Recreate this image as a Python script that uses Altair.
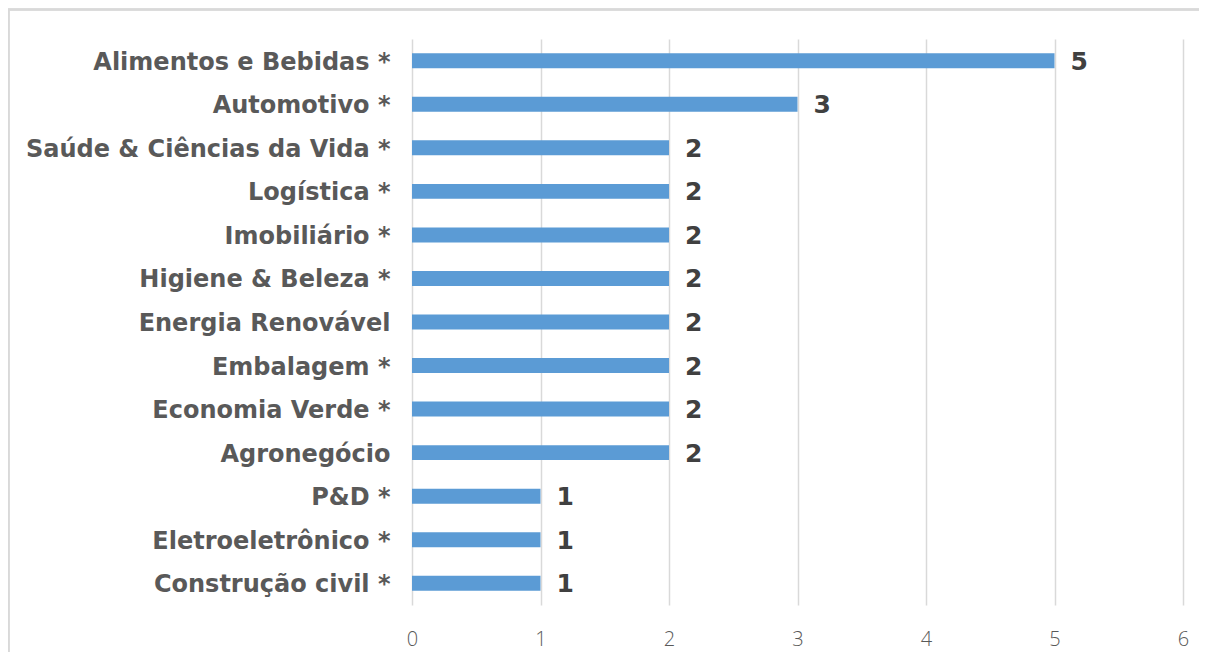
import altair as alt
import pandas as pd

categories = [
    "Alimentos e Bebidas *",
    "Automotivo *",
    "Saúde & Ciências da Vida *",
    "Logística *",
    "Imobiliário *",
    "Higiene & Beleza *",
    "Energia Renovável",
    "Embalagem *",
    "Economia Verde *",
    "Agronegócio",
    "P&D *",
    "Eletroeletrônico *",
    "Construção civil *",
]
values = [5, 3, 2, 2, 2, 2, 2, 2, 2, 2, 1, 1, 1]
x_ticks = [0, 1, 2, 3, 4, 5, 6]

df = pd.DataFrame({"categoria": categories, "valor": values})

W, H = 771, 566
PAD_L, PAD_T = 404, 31

y_enc = alt.Y(
    "categoria:N",
    sort=categories,
    title=None,
    scale=alt.Scale(paddingInner=0.656, paddingOuter=0.328),
    axis=alt.Axis(
        domain=False,
        ticks=False,
        labelPadding=22,
        labelOffset=2,
        labelFont="DejaVu Sans",
        labelFontWeight="bold",
        labelFontSize=24,
        labelColor="#595959",
        labelLimit=400,
        grid=False,
    ),
)
x_enc = alt.X(
    "valor:Q",
    title=None,
    scale=alt.Scale(domain=[0, 6], nice=False),
    axis=alt.Axis(
        values=x_ticks,
        format="d",
        domain=False,
        ticks=False,
        grid=True,
        gridColor="#d9d9d9",
        gridWidth=1.5,
        labelPadding=24,
        labelFont="Open Sans",
        labelFontWeight=300,
        labelFontSize=20,
        labelColor="#595959",
        labelFlush=False,
    ),
)

bars = alt.Chart(df).mark_bar(color="#5B9BD5").encode(x=x_enc, y=y_enc)

labels = alt.Chart(df).mark_text(
    align="left",
    baseline="middle",
    dx=16,
    dy=1,
    font="DejaVu Sans",
    fontWeight="bold",
    fontSize=25,
    color="#404040",
).encode(x="valor:Q", y=alt.Y("categoria:N", sort=categories), text="valor:Q")

frame = alt.Chart(df).mark_rect(
    fill=None, stroke="#d9d9d9", strokeWidth=1.5, clip=False
).encode(
    x=alt.value(-PAD_L + 0.5),
    x2=alt.value(W + 200),
    y=alt.value(-PAD_T + 1.5),
    y2=alt.value(H + 200),
)

chart = (
    alt.layer(frame, bars, labels)
    .properties(
        width=W,
        height=H,
        autosize=alt.AutoSizeParams(type="none"),
        padding={"left": PAD_L, "top": PAD_T, "right": 16, "bottom": 47},
        background="white",
    )
    .configure_view(stroke=None)
)

chart.save("out.html", embed_options={"renderer": "svg", "actions": False})
